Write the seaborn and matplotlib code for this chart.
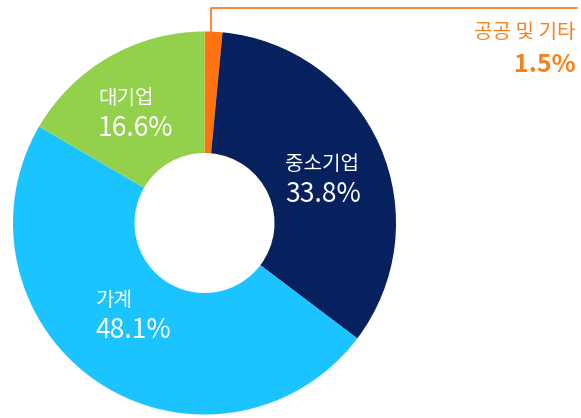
import matplotlib
matplotlib.use("Agg")
import matplotlib.pyplot as plt
import seaborn as sns

categories = ["공공 및 기타", "중소기업", "가계", "대기업"]
values = [1.5, 33.8, 48.1, 16.6]
pct_labels = ["1.5%", "33.8%", "48.1%", "16.6%"]
colors = ["#FF7410", "#06215E", "#1CC4FF", "#93D14D"]

sns.set_theme(style="white")
plt.rcParams['font.family'] = ['Noto Sans CJK KR', 'DejaVu Sans']

W, H = 581, 418
fig = plt.figure(figsize=(W / 100, H / 100), dpi=100)
ax = fig.add_axes([0, 0, 1, 1])

cx, cy, R, r_in = 204.5, 223, 191.5, 70
wedges, _ = ax.pie(values, colors=colors, startangle=-90, counterclock=True,
                   center=(cx, cy), radius=R, frame=True,
                   wedgeprops=dict(width=R - r_in, linewidth=0))
ax.set_xlim(0, W)
ax.set_ylim(H, 0)
ax.set_aspect("auto")
ax.axis("off")

# inside labels (left aligned)
inside = {1: (285, 165, 195), 2: (96, 300, 330), 3: (98, 98, 128)}
for i, (x, y1, y2) in inside.items():
    ax.text(x, y1, categories[i], color="white", fontsize=14.5, ha="left", va="center")
    ax.text(x, y2, pct_labels[i], color="white", fontsize=19, ha="left", va="center",
            fontweight=500)

# outside label with leader line
ax.plot([210.7, 210.7, 577], [33, 8, 8], color="#FF7410", lw=1.2)
ax.text(576, 33, categories[0], color="#F5821F", fontsize=14.5, ha="right", va="center")
ax.text(576, 65, pct_labels[0], color="#F5821F", fontsize=18, ha="right", va="center",
        fontweight="bold")

fig.savefig("out.png", dpi=100)
